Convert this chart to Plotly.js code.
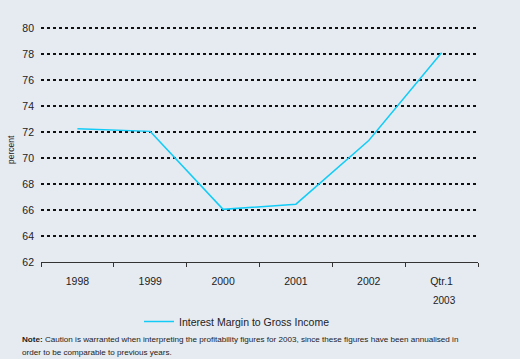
<!DOCTYPE html>
<html>
<head>
<meta charset="utf-8">
<script src="https://cdn.plot.ly/plotly-3.0.1.min.js"></script>
<style>
html,body{margin:0;padding:0;background:#E6EAF1;}
#chart{width:520px;height:359px;}
</style>
</head>
<body>
<div id="chart"></div>
<script>
const categories = ["1998", "1999", "2000", "2001", "2002", "Qtr.1"];
const subLabel = "2003";
const values = [72.25, 72.05, 66.05, 66.45, 71.35, 78.1];
const seriesName = "Interest Margin to Gross Income";
const yTitle = "percent";
const noteBold = "Note:";
const noteLine1 = " Caution is warranted when interpreting the profitability figures for 2003, since these figures have been annualised in";
const noteLine2 = "order to be comparable to previous years.";

const font = "Liberation Sans, Arial, sans-serif";
const W = 520, H = 359, L = 41, R = 42, T = 27, B = 97;
const pw = W - L - R, ph = H - T - B;
const px = v => (v - L) / pw;
const py = v => (H - B - v) / ph;

const trace = {
  x: categories,
  y: values,
  type: "scatter",
  mode: "lines",
  name: seriesName,
  line: {color: "#12CCF7", width: 1.5}
};

const layout = {
  width: W, height: H,
  margin: {l: L, r: R, t: T, b: B, pad: 0},
  paper_bgcolor: "#E6EAF1",
  plot_bgcolor: "#E6EAF1",
  font: {family: font, size: 10.5, color: "#222"},
  xaxis: {
    type: "category",
    range: [-0.5, 5.5],
    showgrid: false,
    zeroline: false,
    showline: true,
    linecolor: "#333",
    linewidth: 1,
    ticks: "outside",
    tickson: "boundaries",
    ticklen: 4,
    tickcolor: "#333",
    ticklabelstandoff: 9,
    tickfont: {family: font, size: 10.5, color: "#222"},
    fixedrange: true
  },
  yaxis: {
    range: [62, 80.08],
    dtick: 2,
    tick0: 62,
    showgrid: true,
    gridcolor: "#111",
    gridwidth: 1.6,
    griddash: "dot",
    zeroline: false,
    showline: false,
    ticks: "",
    ticklabelstandoff: 6,
    tickfont: {family: font, size: 10.5, color: "#222"},
    fixedrange: true
  },
  showlegend: true,
  legend: {
    orientation: "h",
    x: px(139), y: py(321.5),
    xanchor: "left", yanchor: "middle",
    bgcolor: "rgba(0,0,0,0)",
    font: {family: font, size: 10.5, color: "#222"}
  },
  annotations: [
    {text: yTitle, xref: "paper", yref: "paper", x: px(11), y: py(150),
     xanchor: "center", yanchor: "middle", textangle: -90, showarrow: false,
     font: {family: font, size: 8.5, color: "#222"}},
    {text: subLabel, xref: "paper", yref: "paper", x: px(444), y: py(300),
     xanchor: "center", yanchor: "middle", showarrow: false,
     font: {family: font, size: 10, color: "#222"}},
    {text: "<b>" + noteBold + "</b>" + noteLine1, xref: "paper", yref: "paper",
     x: px(20), y: py(339), xanchor: "left", yanchor: "middle", showarrow: false,
     font: {family: font, size: 8.1, color: "#222"}},
    {text: noteLine2, xref: "paper", yref: "paper",
     x: px(20), y: py(352), xanchor: "left", yanchor: "middle", showarrow: false,
     font: {family: font, size: 8.1, color: "#222"}}
  ]
};

Plotly.newPlot("chart", [trace], layout, {displayModeBar: false, staticPlot: true});
</script>
</body>
</html>
